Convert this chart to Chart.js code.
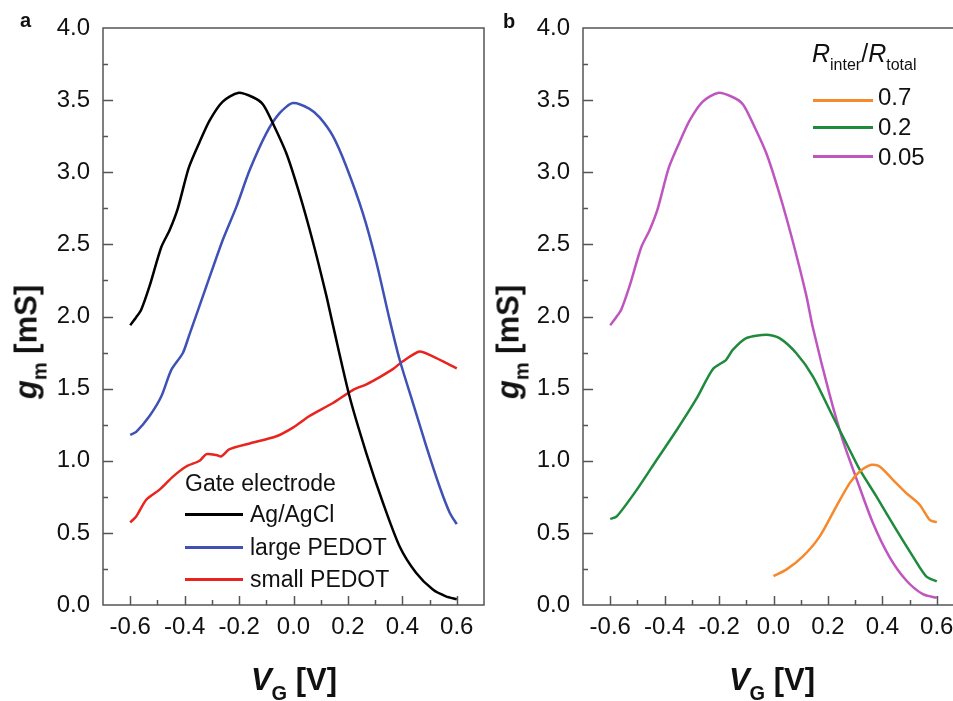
<!DOCTYPE html>
<html><head><meta charset="utf-8">
<script src="https://cdn.jsdelivr.net/npm/chart.js@4.4.0/dist/chart.umd.min.js"></script>
<style>
html,body{margin:0;padding:0;background:#fff;overflow:hidden;}
#wrap{position:relative;width:953px;height:701px;overflow:hidden;font-family:'Liberation Sans',Arial,sans-serif;color:#111;}
canvas{position:absolute;top:0;}
#ca{left:0;}
#cb{left:480px;}
.t{position:absolute;white-space:nowrap;line-height:1;}
.letter{font-size:20px;font-weight:bold;}
.ytitle{position:absolute;white-space:nowrap;line-height:1;font-size:31px;font-weight:bold;transform:translate(-50%,-50%) rotate(-90deg);}
.xtitle{position:absolute;white-space:nowrap;line-height:1;font-size:31px;font-weight:bold;transform:translateX(-50%);}
.sub{font-size:20px;position:relative;top:10px;}
.lg{font-size:23px;}
.lgb{font-size:24px;}
.ln{position:absolute;height:2.5px;}
.hdr{font-size:25px;}
.hsub{font-size:16px;position:relative;top:8px;}
</style>
</head><body>
<div id="wrap">
<canvas id="ca" width="490" height="701" style="width:490px;height:701px"></canvas>
<canvas id="cb" width="490" height="701" style="width:490px;height:701px"></canvas>

<div class="t letter" style="left:20px;top:10px">a</div>
<div class="t letter" style="left:503px;top:11px">b</div>

<div class="ytitle" style="left:26px;top:342px"><i>g</i><span class="sub">m</span> [mS]</div>
<div class="ytitle" style="left:508px;top:342px"><i>g</i><span class="sub">m</span> [mS]</div>
<div class="xtitle" style="left:294px;top:664px"><i>V</i><span class="sub">G</span> [V]</div>
<div class="xtitle" style="left:772px;top:664px"><i>V</i><span class="sub">G</span> [V]</div>

<!-- legend a -->
<div class="t lg" style="left:185px;top:472px">Gate electrode</div>
<div class="ln" style="left:185px;width:58px;top:513px;background:#000"></div>
<div class="t lg" style="left:250px;top:503px">Ag/AgCl</div>
<div class="ln" style="left:185px;width:58px;top:546px;background:#3f51b5"></div>
<div class="t lg" style="left:250px;top:536px">large PEDOT</div>
<div class="ln" style="left:185px;width:58px;top:578px;background:#e8241f"></div>
<div class="t lg" style="left:250px;top:568px">small PEDOT</div>

<!-- legend b -->
<div class="t hdr" style="left:812px;top:41px"><i>R</i><span class="hsub">inter</span>/<i>R</i><span class="hsub">total</span></div>
<div class="ln" style="left:813px;width:60px;top:99px;background:#f5892c"></div>
<div class="t lgb" style="left:878px;top:85px">0.7</div>
<div class="ln" style="left:813px;width:60px;top:126px;background:#1e8a3c"></div>
<div class="t lgb" style="left:878px;top:115px">0.2</div>
<div class="ln" style="left:813px;width:60px;top:155px;background:#bf55bf"></div>
<div class="t lgb" style="left:878px;top:145px">0.05</div>
</div>

<script>
// ---- Panel a data ----
const agVG = [-0.6, -0.578, -0.56, -0.529, -0.486, -0.455, -0.425, -0.385, -0.345, -0.308, -0.26, -0.204, -0.149, -0.112, -0.076, -0.026, 0.022, 0.071, 0.12, 0.145, 0.206, 0.268, 0.329, 0.39, 0.451, 0.512, 0.56, 0.6];
const agGm = [1.94, 1.995, 2.045, 2.21, 2.48, 2.60, 2.75, 3.03, 3.21, 3.36, 3.49, 3.55, 3.52, 3.47, 3.34, 3.13, 2.85, 2.52, 2.15, 1.94, 1.445, 1.05, 0.707, 0.406, 0.222, 0.107, 0.06, 0.04];

const largeVG = [-0.6, -0.578, -0.529, -0.486, -0.449, -0.407, -0.385, -0.32, -0.26, -0.21, -0.161, -0.1, -0.051, -0.002, 0.059, 0.096, 0.145, 0.194, 0.255, 0.304, 0.353, 0.39, 0.439, 0.488, 0.537, 0.574, 0.6];
const largeGm = [1.18, 1.20, 1.31, 1.445, 1.63, 1.745, 1.86, 2.21, 2.53, 2.76, 3.015, 3.27, 3.41, 3.48, 3.44, 3.38, 3.25, 3.04, 2.715, 2.38, 1.98, 1.70, 1.40, 1.10, 0.82, 0.64, 0.56];

const smallVG = [-0.6, -0.578, -0.541, -0.492, -0.443, -0.394, -0.345, -0.32, -0.284, -0.265, -0.235, -0.161, -0.063, -0.002, 0.059, 0.145, 0.218, 0.268, 0.317, 0.365, 0.402, 0.463, 0.5, 0.562, 0.6];
const smallGm = [0.573, 0.614, 0.73, 0.80, 0.89, 0.96, 1.00, 1.046, 1.04, 1.03, 1.08, 1.12, 1.17, 1.23, 1.31, 1.40, 1.49, 1.53, 1.58, 1.635, 1.69, 1.757, 1.734, 1.677, 1.64];

// ---- Panel b data ----
const r07VG = [0.0, 0.047, 0.108, 0.17, 0.231, 0.28, 0.317, 0.36, 0.39, 0.439, 0.488, 0.537, 0.574, 0.6];
const r07Gm = [0.2, 0.245, 0.337, 0.476, 0.684, 0.845, 0.926, 0.972, 0.96, 0.868, 0.776, 0.695, 0.59, 0.573];

const r02VG = [-0.6, -0.576, -0.502, -0.429, -0.355, -0.282, -0.223, -0.174, -0.149, -0.1, -0.026, 0.022, 0.084, 0.145, 0.218, 0.268, 0.317, 0.378, 0.451, 0.512, 0.561, 0.6];
const r02Gm = [0.596, 0.614, 0.80, 1.007, 1.215, 1.434, 1.635, 1.70, 1.77, 1.85, 1.873, 1.85, 1.745, 1.584, 1.307, 1.12, 0.938, 0.753, 0.522, 0.337, 0.199, 0.164];

const r005VG = [-0.6, -0.578, -0.56, -0.529, -0.486, -0.455, -0.425, -0.385, -0.345, -0.308, -0.26, -0.204, -0.149, -0.112, -0.076, -0.026, 0.022, 0.071, 0.12, 0.145, 0.206, 0.255, 0.304, 0.365, 0.427, 0.488, 0.549, 0.6];
const r005Gm = [1.94, 1.995, 2.045, 2.21, 2.48, 2.60, 2.75, 3.03, 3.21, 3.36, 3.49, 3.55, 3.52, 3.47, 3.34, 3.13, 2.85, 2.52, 2.15, 1.92, 1.46, 1.14, 0.88, 0.57, 0.33, 0.17, 0.075, 0.05];

// ---- tick labels ----
const xTickVals = [-0.6, -0.4, -0.2, 0.0, 0.2, 0.4, 0.6];
const yTickVals = [0.0, 0.5, 1.0, 1.5, 2.0, 2.5, 3.0, 3.5, 4.0];

const pts = (xs, ys) => xs.map((v, i) => ({x: v, y: ys[i]}));
const fmt = v => (Math.abs(v) < 1e-9 ? 0 : v).toFixed(1);

Chart.defaults.font.family = "'Liberation Sans', Arial, sans-serif";
Chart.defaults.color = '#111';

const frameTicks = {
  id: 'frameTicks',
  afterDraw(chart) {
    const {ctx, chartArea: a, scales: {x, y}} = chart;
    ctx.save();
    ctx.strokeStyle = '#555';
    ctx.lineWidth = 1.5;
    ctx.strokeRect(a.left, a.top, a.right - a.left, a.bottom - a.top);
    ctx.beginPath();
    for (let i = -6; i <= 6; i++) {
      const px = Math.round(x.getPixelForValue(i / 10)) + 0.5;
      const len = (i % 2 === 0) ? 9 : 5;
      ctx.moveTo(px, a.bottom);
      ctx.lineTo(px, a.bottom - len);
    }
    for (let i = 1; i < 16; i++) {
      const py = Math.round(y.getPixelForValue(i * 0.25)) + 0.5;
      const len = (i % 2 === 0) ? 10 : 5;
      ctx.moveTo(a.left, py);
      ctx.lineTo(a.left + len, py);
    }
    ctx.stroke();
    ctx.restore();
  }
};

function makeChart(id, datasets) {
  return new Chart(document.getElementById(id), {
    type: 'scatter',
    data: {datasets},
    options: {
      responsive: false,
      animation: false,
      devicePixelRatio: 1,
      layout: {padding: {left: 0, right: 6, top: 28, bottom: 0}},
      plugins: {legend: {display: false}, tooltip: {enabled: false}},
      elements: {point: {radius: 0}, line: {tension: 0.25, borderWidth: 2.5}},
      scales: {
        x: {
          type: 'linear', min: -0.7, max: 0.7,
          afterFit: s => { s.height = 96; },
          afterBuildTicks: s => { s.ticks = xTickVals.map(v => ({value: v})); },
          grid: {display: false, drawTicks: false},
          border: {display: false},
          ticks: {font: {size: 24}, padding: 8, color: '#111', callback: fmt, autoSkip: false, maxRotation: 0}
        },
        y: {
          type: 'linear', min: 0, max: 4,
          afterFit: s => { s.width = 103; },
          afterBuildTicks: s => { s.ticks = yTickVals.map(v => ({value: v})); },
          grid: {display: false, drawTicks: false},
          border: {display: false},
          ticks: {font: {size: 24}, padding: 13, color: '#111', callback: fmt, autoSkip: false}
        }
      }
    },
    plugins: [frameTicks]
  });
}

const ds = (xs, ys, color) => ({data: pts(xs, ys), showLine: true, borderColor: color, backgroundColor: color, borderWidth: 2.5, pointRadius: 0, fill: false});

makeChart('ca', [
  ds(agVG, agGm, '#000000'),
  ds(largeVG, largeGm, '#3f51b5'),
  ds(smallVG, smallGm, '#e8241f')
]);
makeChart('cb', [
  ds(r07VG, r07Gm, '#f5892c'),
  ds(r02VG, r02Gm, '#1e8a3c'),
  ds(r005VG, r005Gm, '#bf55bf')
]);
</script>
</body></html>
